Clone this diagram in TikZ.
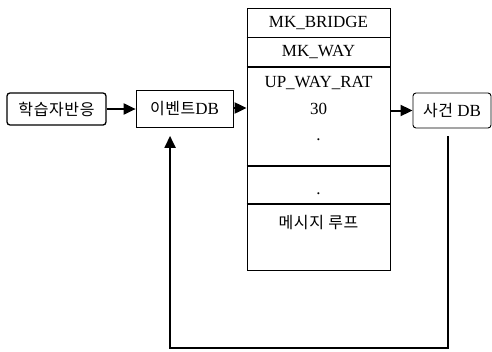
\documentclass[tikz,border=0pt]{standalone}
\usepackage{fontspec}
\setmainfont{Liberation Serif}
\newfontfamily\kr[LetterSpace=4]{Noto Sans CJK KR}
\usetikzlibrary{positioning,arrows.meta}
\begin{document}
\begin{tikzpicture}
			\tikzstyle{r} = [draw, shape=rectangle, inner sep=0pt, line width=0.8pt]
			\tikzstyle{rr} = [r, rounded corners=3pt, line width=1.3pt]
			\tikzstyle{cell} = [r, minimum width=143pt]
			\tikzstyle{t} = [font=\fontsize{17}{19}\selectfont]
			\tikzstyle{k} = [font=\fontsize{16}{18}\selectfont\kr]
			\tikzstyle{arr} = [line width=2pt, -{Triangle[length=12pt,width=11pt]}]
			\useasboundingbox (0,0) rectangle (492pt,-351pt);
			% left side
			\node[rr, minimum width=99pt, minimum height=32pt] (learner) at (56.5pt,-109pt)
				{\fontsize{16}{18}\selectfont\kr 학습자반응};
			\node[r, minimum width=97pt, minimum height=37pt, right=29pt of learner] (event-db)
				{\fontsize{17}{19}\selectfont{\kr\fontsize{16}{18}\selectfont 이벤트}DB};
			% message box
			\node[cell, minimum height=29pt] (mk-bridge) at (318.5pt,-22.5pt) {};
			\node[cell, minimum height=29pt, below=0pt of mk-bridge] (mk-way) {};
			\node[cell, minimum height=98pt, below=0pt of mk-way] (rat-cell) {};
			\node[cell, minimum height=37pt, below=0pt of rat-cell] (blank-cell) {};
			\node[cell, minimum height=66pt, below=0pt of blank-cell] (loop-cell) {};
			\draw[line width=1.8pt] (mk-bridge.south west) -- (mk-bridge.south east);
			\draw[line width=1.8pt] (mk-way.south west) -- (mk-way.south east);
			\draw[line width=1.5pt] (blank-cell.north west) -- (blank-cell.north east);
			\draw[line width=1.5pt] (loop-cell.north west) -- (loop-cell.north east);
			\node[t] (bridge-name) at (mk-bridge) {MK\_BRIDGE};
			\node[t] (way-name) at (mk-way) {MK\_WAY};
			\node[t, yshift=-16pt] (rat-name) at (rat-cell.north) {UP\_WAY\_RAT};
			\node[t, yshift=-42pt] (rat-val) at (rat-cell.north) {30};
			\node[t, yshift=-73pt] (rat-dot) at (rat-cell.north) {.};
			\node[t, yshift=-28pt] (blank-dot) at (blank-cell.north) {.};
			\node[k, yshift=-19pt] (loop-name) at (loop-cell.north) {메시지 루프};
			% right side
			\node[rr, line width=0.9pt, minimum width=78pt, minimum height=35pt] (dict-db) at (452pt,-110.5pt)
				{\fontsize{17}{19}\selectfont{\kr\fontsize{16}{18}\selectfont 사건} DB};
			% arrows
			\draw[arr] (learner) -- (event-db);
			\draw[arr] ([yshift=1pt]event-db.east) -- ([yshift=1pt]event-db.east -| rat-cell.west);
			\draw[arr] (dict-db.west -| rat-cell.east) -- (dict-db.west);
			\coordinate (fb-right) at ([xshift=-4pt]dict-db.south);
			\coordinate (fb-left) at ([xshift=-14.5pt]event-db.south);
			\coordinate (fb-bot) at (0,-348pt);
			\draw[arr, shorten <=8pt, shorten >=8pt] (fb-right) -- (fb-right |- fb-bot) -| (fb-left);
\end{tikzpicture}
\end{document}
